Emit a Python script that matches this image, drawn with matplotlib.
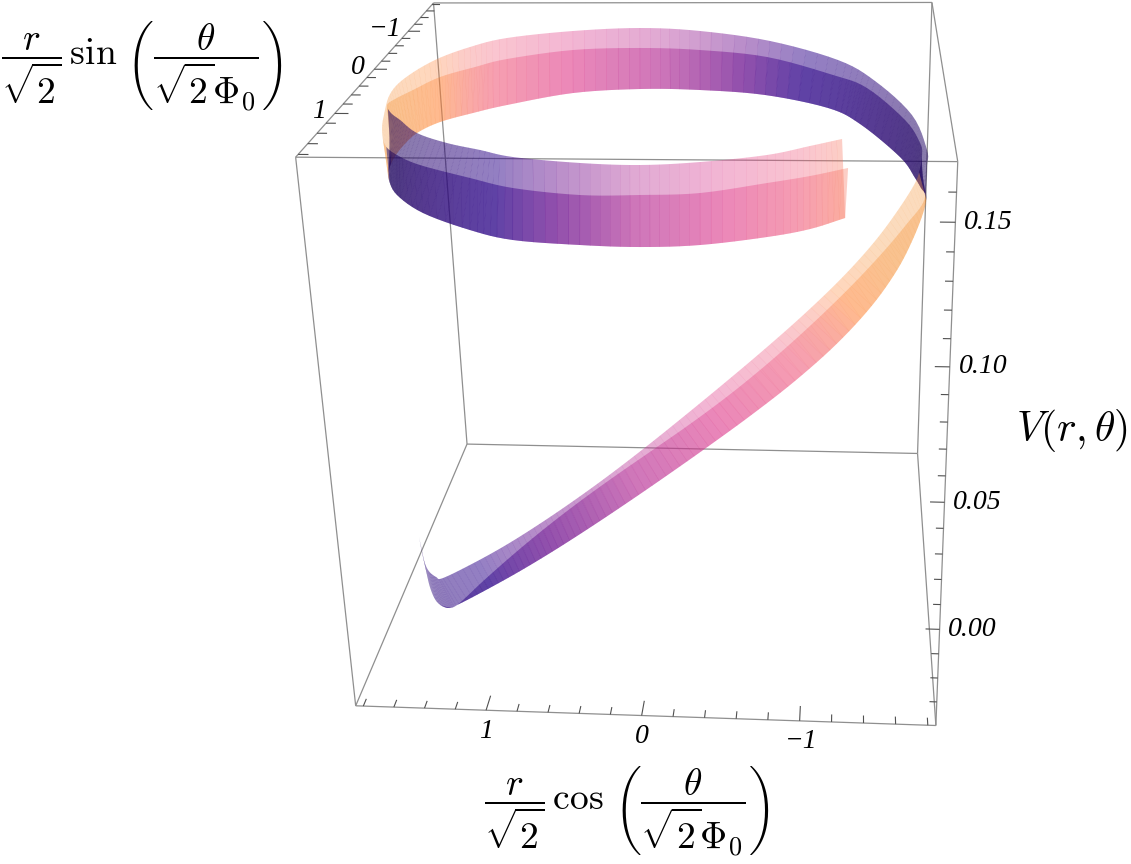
import numpy as np
import matplotlib
matplotlib.use('Agg')
import matplotlib.pyplot as plt
from matplotlib.collections import PolyCollection, LineCollection

plt.rcParams['mathtext.fontset'] = 'cm'

# plot box and axes
x_lim = 1.85
y_lim = 1.85
z_low, z_high = -0.04, 0.17
xy_ticks = [-1.8, -1.6, -1.4, -1.2, -1.0, -0.8, -0.6, -0.4, -0.2, 0.0, 0.2, 0.4, 0.6, 0.8, 1.0, 1.2, 1.4, 1.6, 1.8]
xy_major = [-1.0, 0.0, 1.0]
xy_labels = ['\u22121', '0', '1']
z_ticks = [-0.03, -0.02, -0.01, 0.0, 0.01, 0.02, 0.03, 0.04, 0.05, 0.06, 0.07, 0.08, 0.09, 0.10, 0.11, 0.12, 0.13, 0.14, 0.15, 0.16]
z_major = [0.0, 0.05, 0.10, 0.15]
z_labels = ['0.00', '0.05', '0.10', '0.15']

# ribbon: rim and valley curves, one value per station along the spiral
x_inner = [1.550, 1.498, 1.445, 1.389, 1.311, 1.075, 0.833, 0.615, 0.393, 0.173, -0.074, -0.311, -0.528, -0.768, -1.024, -1.257, -1.450, -1.590, -1.672, -1.710, -1.729, -1.720, -1.628, -1.379, -1.142, -0.660, -0.162, 0.279, 0.768, 1.201, 1.393, 1.576, 1.694, 1.752, 1.773, 1.704, 1.594, 1.410, 1.167, 0.927, 0.696, 0.271, -0.083, -0.419, -0.795, -1.034, -1.217]
y_inner = [1.049, 1.187, 1.291, 1.317, 1.443, 1.589, 1.659, 1.658, 1.711, 1.740, 1.709, 1.616, 1.587, 1.567, 1.463, 1.454, 1.240, 0.916, 0.568, 0.326, 0.114, -0.029, -0.306, -0.884, -1.088, -1.502, -1.629, -1.618, -1.558, -1.239, -1.021, -0.695, -0.370, -0.093, 0.047, 0.228, 0.438, 0.768, 1.022, 1.209, 1.392, 1.600, 1.682, 1.621, 1.539, 1.368, 1.287]
z_inner = [0.005, 0.001, -0.001, -0.003, 0.001, 0.011, 0.022, 0.032, 0.042, 0.053, 0.064, 0.075, 0.085, 0.097, 0.109, 0.122, 0.130, 0.136, 0.138, 0.139, 0.140, 0.142, 0.146, 0.149, 0.151, 0.152, 0.153, 0.154, 0.154, 0.155, 0.155, 0.156, 0.156, 0.157, 0.157, 0.157, 0.158, 0.159, 0.160, 0.161, 0.162, 0.164, 0.165, 0.165, 0.166, 0.166, 0.167]

x_outer = [1.556, 1.492, 1.420, 1.355, 1.265, 1.067, 0.857, 0.621, 0.407, 0.167, -0.084, -0.344, -0.591, -0.832, -1.101, -1.352, -1.530, -1.651, -1.715, -1.743, -1.761, -1.767, -1.683, -1.437, -1.173, -0.671, -0.142, 0.311, 0.805, 1.281, 1.523, 1.722, 1.865, 1.893, 1.817, 1.750, 1.655, 1.518, 1.318, 0.955, 0.670, 0.256, -0.091, -0.426, -0.798, -1.038, -1.254]
y_outer = [0.937, 1.101, 1.228, 1.230, 1.314, 1.367, 1.471, 1.503, 1.552, 1.653, 1.646, 1.657, 1.640, 1.548, 1.427, 1.334, 1.115, 0.946, 0.790, 0.502, 0.158, -0.045, -0.596, -1.124, -1.488, -1.756, -1.912, -1.932, -1.841, -1.701, -1.506, -1.208, -0.855, -0.513, -0.017, 0.315, 0.630, 0.884, 1.129, 1.415, 1.588, 1.750, 1.791, 1.749, 1.618, 1.489, 1.392]
z_outer = [-0.011, -0.015, -0.017, -0.019, -0.015, -0.002, 0.012, 0.025, 0.037, 0.050, 0.061, 0.072, 0.082, 0.094, 0.106, 0.119, 0.127, 0.133, 0.135, 0.136, 0.137, 0.139, 0.143, 0.148, 0.151, 0.155, 0.157, 0.158, 0.158, 0.157, 0.156, 0.155, 0.153, 0.152, 0.152, 0.152, 0.152, 0.153, 0.154, 0.155, 0.155, 0.156, 0.157, 0.157, 0.158, 0.158, 0.159]

x_valley = [1.564, 1.499, 1.427, 1.352, 1.261, 1.052, 0.801, 0.578, 0.351, 0.115, -0.163, -0.433, -0.677, -0.952, -1.239, -1.460, -1.613, -1.700, -1.748, -1.768, -1.738, -1.701, -1.608, -1.337, -1.106, -0.639, -0.153, 0.291, 0.777, 1.216, 1.440, 1.634, 1.756, 1.788, 1.803, 1.777, 1.729, 1.594, 1.342, 0.993, 0.696, 0.290, -0.069, -0.412, -0.793, -1.038, -1.241]
y_valley = [0.907, 1.072, 1.200, 1.214, 1.273, 1.399, 1.459, 1.510, 1.528, 1.544, 1.526, 1.446, 1.390, 1.396, 1.233, 1.140, 0.897, 0.561, 0.229, 0.006, -0.103, -0.203, -0.542, -1.128, -1.403, -1.612, -1.677, -1.637, -1.525, -1.209, -1.064, -0.840, -0.634, -0.336, -0.126, 0.129, 0.333, 0.676, 1.054, 1.344, 1.551, 1.621, 1.689, 1.646, 1.551, 1.411, 1.266]
z_valley = [-0.012, -0.016, -0.018, -0.020, -0.016, -0.006, 0.005, 0.015, 0.025, 0.036, 0.047, 0.058, 0.068, 0.080, 0.092, 0.105, 0.113, 0.119, 0.121, 0.122, 0.123, 0.125, 0.127, 0.130, 0.132, 0.134, 0.135, 0.136, 0.136, 0.136, 0.135, 0.135, 0.134, 0.134, 0.133, 0.133, 0.133, 0.134, 0.135, 0.135, 0.136, 0.136, 0.137, 0.137, 0.138, 0.138, 0.139]

# angle of each station in degrees, colours repeat every half turn
theta_inner = [38, 40, 42, 46, 49, 57, 65, 72, 79, 87, 95, 104, 113, 123, 134, 149, 161, 172, 178, 181, 184, 190, 200, 218, 230, 246, 262, 274, 288, 304, 312, 324, 334, 343, 358, 362, 368, 380, 395, 410, 422, 437, 451, 463, 478, 488, 496]
theta_outer = [38, 40, 42, 46, 49, 57, 65, 72, 79, 87, 95, 104, 113, 123, 134, 149, 161, 172, 178, 181, 184, 190, 200, 218, 230, 246, 262, 274, 288, 304, 312, 324, 334, 338, 345, 352, 359, 366, 385, 410, 422, 437, 451, 463, 478, 488, 496]

# colour of a single layer over white, and its opacity
phase = [0.0, 0.14, 0.32, 0.40, 0.50, 0.60, 0.70, 0.80, 0.90, 1.0]
shade_r = [135, 140, 148, 185, 225, 243, 250, 255, 252, 252]
shade_g = [118, 122, 128, 142, 170, 182, 197, 215, 220, 220]
shade_b = [168, 178, 195, 202, 212, 212, 208, 190, 190, 190]
opacity = [0.52, 0.52, 0.52, 0.46, 0.40, 0.37, 0.35, 0.30, 0.30, 0.30]

# camera: where the box corners land in the 1131x864 picture
corner_xyz = [(x_lim, y_lim, z_high), (x_lim, -y_lim, z_high), (-x_lim, -y_lim, z_high), (-x_lim, y_lim, z_high),
              (x_lim, y_lim, z_low), (x_lim, -y_lim, z_low), (-x_lim, -y_lim, z_low), (-x_lim, y_lim, z_low)]
corner_px = [(296, 157), (433, 3), (932, 3), (958, 161), (356, 706), (467, 444), (918, 453), (935, 726)]

rows = []
for (x, y, z), (u, v) in zip(corner_xyz, corner_px):
    rows.append([x, y, z, 1, 0, 0, 0, 0, -u*x, -u*y, -u*z, -u])
    rows.append([0, 0, 0, 0, x, y, z, 1, -v*x, -v*y, -v*z, -v])
cam = np.linalg.svd(np.array(rows))[2][-1].reshape(3, 4)
if cam[2, 3] < 0:
    cam = -cam

SUB = 6


def project(x, y, z):
    pts = cam @ np.vstack([x, y, z, np.ones_like(np.asarray(x, dtype=float))])
    return pts[0]/pts[2], pts[1]/pts[2], pts[2]


def settle(values):
    # take the reading noise out of the long rising stretch
    v = np.asarray(values, dtype=float).copy()
    for _ in range(3):
        v[5:18] = (v[4:17] + 2*v[5:18] + v[6:19])/4
    return v


def smooth(values, n=SUB):
    # catmull-rom between the stations, only to draw a round curve
    v = settle(values)
    v = np.concatenate([[2*v[0] - v[1]], v, [2*v[-1] - v[-2]]])
    out = []
    for i in range(1, len(v) - 2):
        for t in np.arange(n)/n:
            out.append(0.5*(2*v[i] + (v[i+1] - v[i-1])*t + (2*v[i-1] - 5*v[i] + 4*v[i+1] - v[i+2])*t**2
                            + (3*v[i] - v[i-1] - 3*v[i+1] + v[i+2])*t**3))
    out.append(v[-2])
    return np.array(out)


def stretch(a, b, eps=0.1):
    # push a shared quad edge out a little so the seams do not show
    d = np.array(b) - np.array(a)
    n = max(np.hypot(*d), 1e-6)
    return tuple(np.array(a) - d/n*eps), tuple(np.array(b) + d/n*eps)


def wall_quads(rim_x, rim_y, rim_z, theta):
    ru, rv, rw = project(smooth(rim_x), smooth(rim_y), smooth(rim_z))
    vu, vv, vw = project(smooth(x_valley), smooth(y_valley), smooth(z_valley))
    th = np.interp(np.arange(len(ru))/SUB, np.arange(len(theta)), theta)
    polys, colours, depth = [], [], []
    for i in range(len(ru) - 1):
        r0, r1 = stretch((ru[i], rv[i]), (ru[i+1], rv[i+1]))
        v0, v1 = stretch((vu[i], vv[i]), (vu[i+1], vv[i+1]))
        polys.append([r0, r1, v1, v0])
        p = ((th[i] + th[i+1])/2 % 180)/180
        a = np.interp(p, phase, opacity)
        s = np.array([np.interp(p, phase, shade_r), np.interp(p, phase, shade_g), np.interp(p, phase, shade_b)])/255
        colours.append(list(np.clip((s - (1 - a))/a, 0, 1)) + [a])
        depth.append((rw[i] + rw[i+1] + vw[i] + vw[i+1])/4)
    return polys, colours, depth


fig = plt.figure(figsize=(11.31, 8.64), dpi=100)
ax = fig.add_axes([0, 0, 1, 1])
ax.set_xlim(0, 1131)
ax.set_ylim(864, 0)
ax.axis('off')

# box edges
edge_pairs = [(0, 1), (1, 2), (2, 3), (3, 0), (4, 5), (5, 6), (6, 7), (7, 4), (0, 4), (1, 5), (2, 6), (3, 7)]
segs = []
for a, b in edge_pairs:
    ua, va, _ = project([corner_xyz[a][0]], [corner_xyz[a][1]], [corner_xyz[a][2]])
    ub, vb, _ = project([corner_xyz[b][0]], [corner_xyz[b][1]], [corner_xyz[b][2]])
    segs.append([(ua[0], va[0]), (ub[0], vb[0])])
ax.add_collection(LineCollection(segs, colors='#8f8f8f', linewidths=0.9, zorder=1))

# ribbon, far quads first
p1, c1, d1 = wall_quads(x_inner, y_inner, z_inner, theta_inner)
p2, c2, d2 = wall_quads(x_outer, y_outer, z_outer, theta_outer)
polys = p1 + p2
colours = c1 + c2
order = np.argsort(d1 + d2)[::-1]
ribbon = PolyCollection([polys[i] for i in order], facecolors=[colours[i] for i in order],
                        edgecolors='none', linewidths=0, antialiaseds=True, zorder=2)
ax.add_collection(ribbon)

# ticks
tick_segs = []
for t in xy_ticks:
    major = t in xy_major
    ln = 0.16 if major else 0.08
    u, v, _ = project([t, t], [y_lim, y_lim - ln], [z_low, z_low])
    tick_segs.append(list(zip(u, v)))
    ln = 0.085 if major else 0.06
    u, v, _ = project([x_lim, x_lim - ln], [t, t], [z_high, z_high])
    tick_segs.append(list(zip(u, v)))
for t in z_ticks:
    ln = 0.085 if t in z_major else 0.045
    u, v, _ = project([-x_lim, -x_lim + ln], [y_lim, y_lim], [t, t])
    tick_segs.append(list(zip(u, v)))
ax.add_collection(LineCollection(tick_segs, colors='#505050', linewidths=0.8, zorder=3))

# tick labels
tick_font = dict(family='Liberation Serif', style='italic', fontsize=20, ha='center', va='center', color='black')
for t, s in zip(xy_major, xy_labels):
    u, v, _ = project([t], [y_lim], [z_low])
    ax.text(u[0] + (2 if t < 0 else 0), v[0] + 21, s, **tick_font)
    u, v, _ = project([x_lim], [t], [z_high])
    ax.text(u[0] - (23 if t < 0 else 16), v[0] - 2, s, **tick_font)
for t, s in zip(z_major, z_labels):
    u, v, _ = project([-x_lim], [y_lim], [t])
    ax.text(u[0] + 33, v[0], s, **tick_font)

# axis titles
label_y = r'$\dfrac{r}{\sqrt{2}}\,\sin\,\left(\dfrac{\theta}{\sqrt{2}\Phi_0}\right)$'
label_x = r'$\dfrac{r}{\sqrt{2}}\,\cos\,\left(\dfrac{\theta}{\sqrt{2}\Phi_0}\right)$'
ax.text(1, 66, label_y, fontsize=27, ha='left', va='center')
ax.text(627, 811, label_x, fontsize=27, ha='center', va='center')
ax.text(1072, 431, r'$V(r,\theta)$', fontsize=30, ha='center', va='center')

fig.savefig('out.png', dpi=100)
